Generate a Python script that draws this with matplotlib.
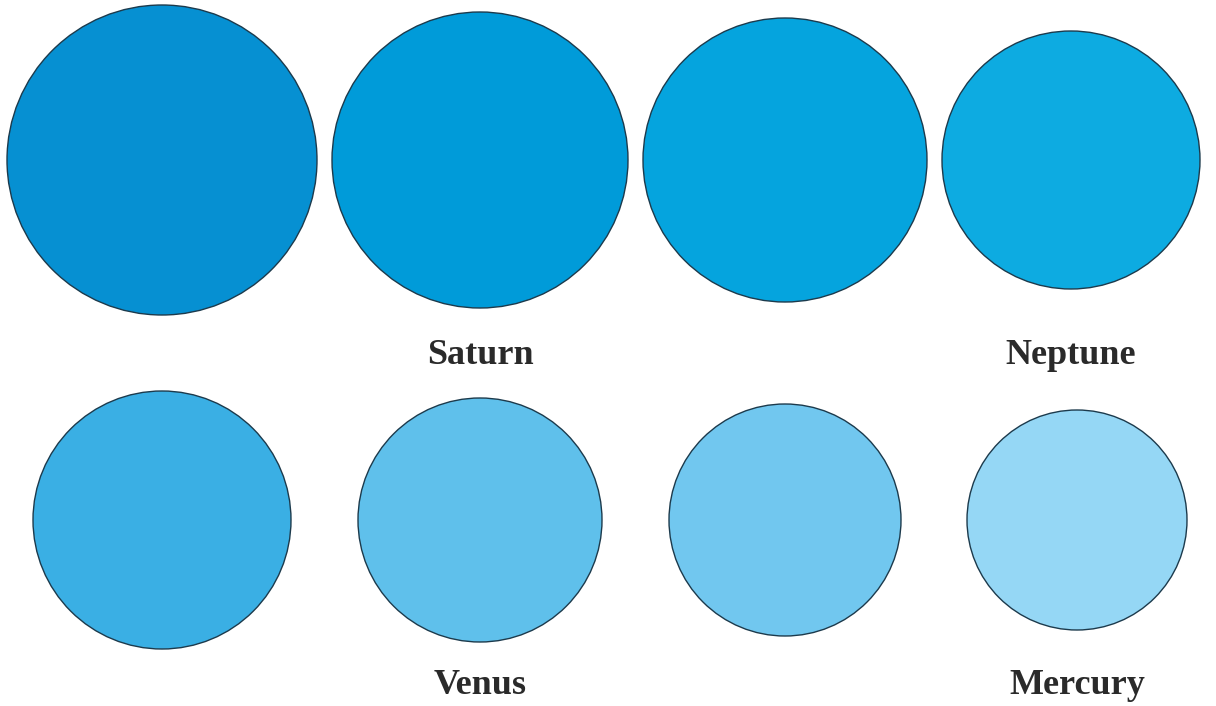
import matplotlib
matplotlib.use("Agg")
import matplotlib.pyplot as plt
from matplotlib.patches import Circle

planets = ["Jupiter", "Saturn", "Uranus", "Neptune", "Earth", "Venus", "Mars", "Mercury"]
sizes = [155, 148, 142, 129, 129, 122, 116, 110]
colors = ["#0690d2", "#009bd9", "#05a4de", "#0dabe1", "#3aafe4", "#5fc0eb", "#71c7ef", "#95d7f5"]
show_label = [False, True, False, True, False, True, False, True]

# layout
col_x = [[162, 480, 785, 1071], [162, 480, 785, 1077]]
row_y = [160, 520]
label_y = [355, 686]

fig = plt.figure(figsize=(12.16, 7.06), dpi=100)
ax = fig.add_axes([0, 0, 1, 1])
ax.set_xlim(0, 1216)
ax.set_ylim(706, 0)
ax.set_aspect("equal")
ax.axis("off")

for i, (name, r, c, lab) in enumerate(zip(planets, sizes, colors, show_label)):
    row, col = divmod(i, 4)
    cx, cy = col_x[row][col], row_y[row]
    ax.add_patch(Circle((cx, cy), r, facecolor=c, edgecolor="#1c3a4c", linewidth=1.0))
    if lab:
        ax.text(cx, label_y[row], name, ha="center", va="center",
                fontsize=26, fontweight="bold", family="Liberation Serif", color="#2a2a2a")

fig.savefig("out.png", dpi=100)
